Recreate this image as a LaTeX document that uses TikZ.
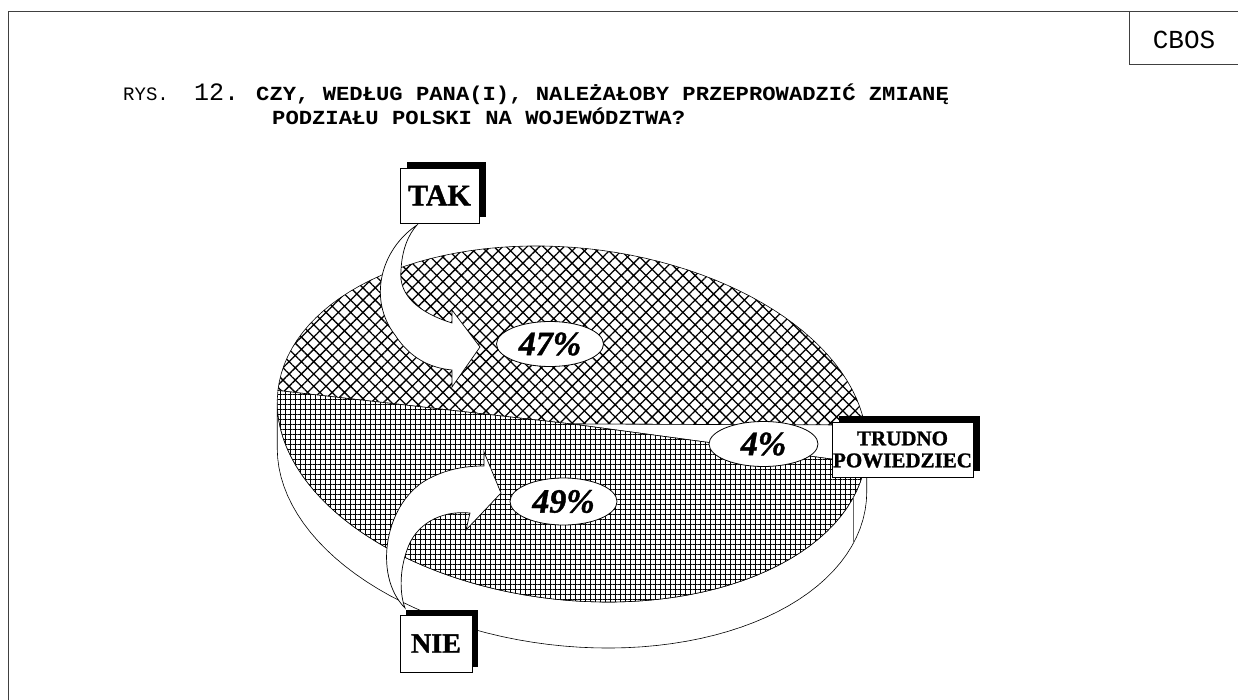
\documentclass[tikz,border=0pt]{standalone}
\usepackage{fontspec}
\usetikzlibrary{shapes.geometric,patterns.meta}
\setmainfont{Liberation Serif}
\newfontfamily\cbosfont{Liberation Mono}
\newfontfamily\titlefont[FakeStretch=1.11]{Liberation Mono}
\newfontfamily\heavyserif[UprightFont=* Bold, ItalicFont=* Bold Italic, FakeBold=1.2]{Liberation Serif}

\tikzset{
  frameline/.style={line width=0.8pt, draw=black!75},
  pieline/.style={line width=0.6pt, draw=black},
  wall/.style={pieline, fill=white},
  slicetak/.style={pieline, preaction={fill=white}, pattern={Hatch[angle=45,distance=8.7pt,line width=1.3pt]}},
  slicenie/.style={pieline, preaction={fill=white}, pattern={Hatch[angle=0,distance=5pt,line width=1pt]}},
  slicetrudno/.style={pieline, fill=white},
  blockarrow/.style={line width=0.7pt, draw=black, fill=white, line join=miter},
  pct/.style={ellipse, draw, line width=0.8pt, fill=white, minimum width=107pt, minimum height=45pt, inner sep=0pt, font=\heavyserif\itshape\fontsize{34}{36}\selectfont},
  answerbox/.style 2 args={draw, line width=0.8pt, fill=white, minimum width=#1, minimum height=#2, inner sep=0pt, font=\heavyserif\fontsize{30}{32}\selectfont},
  answershadow/.style 2 args={fill=black, minimum width=#1, minimum height=#2, inner sep=0pt},
}

\begin{document}
\begin{tikzpicture}[x=1pt,y=1pt,yscale=-1,xscale=1,
  declare function={ex(\t)=572+294.1*cos(\t)-19.92*sin(\t);
                    ey(\t)=424+33.51*cos(\t)+174.87*sin(\t);}]
\useasboundingbox (0,0) rectangle (1238,700);

%Frame
\draw[frameline] (8,700) -- (8,11) -- (1238,11);
\draw[frameline] (1129,11) -- (1129,64) -- (1238,64);
\node[font=\cbosfont\fontsize{26}{30}\selectfont] (cbos) at (1184,40) {CBOS};

%Title
\node[anchor=base west, inner sep=0pt] (rys) at (123,101) {\cbosfont\fontsize{19}{22}\selectfont RYS.};
\node[anchor=base west, inner sep=0pt] (rysnum) at (194,101) {\cbosfont\fontsize{25}{28}\selectfont 12.};
\node[anchor=base west, inner sep=0pt] (question) at (256,101) {\titlefont\bfseries\fontsize{20}{24}\selectfont CZY, WEDŁUG PANA(I), NALEŻAŁOBY PRZEPROWADZIĆ ZMIANĘ};
\node[anchor=base west, inner sep=0pt] (question2) at (272,125) {\titlefont\bfseries\fontsize{20}{24}\selectfont PODZIAŁU POLSKI NA WOJEWÓDZTWA?};

%Pie side wall
\draw[wall] plot[domain=-3.88:176.12,samples=60] ({ex(\x)},{ey(\x)}) -- plot[domain=176.12:-3.88,samples=60] ({ex(\x)},{ey(\x)+46}) -- cycle;

%Slices: TAK, TRUDNO, NIE
\draw[slicetak] (572,424) -- plot[domain=180:349.5,samples=60] ({ex(\x)},{ey(\x)}) -- cycle;
\draw[slicetrudno] (572,424) -- plot[domain=349.5:362,samples=10] ({ex(\x)},{ey(\x)}) -- cycle;
\draw[slicenie] (572,424) -- plot[domain=2:180,samples=60] ({ex(\x)},{ey(\x)}) -- cycle;

%Wall seam
\draw[line width=0.6pt, draw=black!60] ({ex(13.3)},{ey(13.3)}) -- ++(0,46);

%Arrow TAK
\draw[blockarrow] (417,225) .. controls (380,250) and (368,300) .. (395,335) .. controls (410,358) and (430,368) .. (452,370) -- (452,387) -- (480,347) -- (452,310) -- (452,323) .. controls (420,313) and (398,296) .. (401,270) .. controls (402,250) and (408,235) .. (417,225) -- cycle;

%Arrow NIE
\draw[blockarrow] (405,608) .. controls (372,575) and (385,500) .. (430,478) .. controls (448,469) and (465,466) .. (484,466) -- (484,452) -- (501,493) -- (466,530) -- (470,513) .. controls (440,510) and (415,525) .. (407,550) .. controls (399,572) and (400,595) .. (405,608) -- cycle;

%Percent labels
\node[pct] (p47) at (550,344) {47\%};
\node[pct, minimum width=109pt] (p4) at (763.5,444) {4\%};
\node[pct, minimum height=47pt] (p49) at (563.5,501.5) {49\%};

%Answer boxes
\node[answershadow={79pt}{55pt}] (takshadow) at (446.5,189.5) {};
\node[answerbox={79pt}{55pt}] (tak) at (439.5,195.5) {TAK};
\node[answershadow={141pt}{55pt}] (trudnoshadow) at (909.5,443.5) {};
\node[answerbox={141pt}{55pt}, align=center, font=\heavyserif\fontsize{21}{22}\selectfont] (trudno) at (902.5,449.5) {TRUDNO\\POWIEDZIEC};
\node[answershadow={72pt}{57pt}] (nieshadow) at (442,638.5) {};
\node[answerbox={72pt}{57pt}, font=\heavyserif\fontsize{28}{30}\selectfont] (nie) at (436,643.5) {NIE};

\end{tikzpicture}
\end{document}
